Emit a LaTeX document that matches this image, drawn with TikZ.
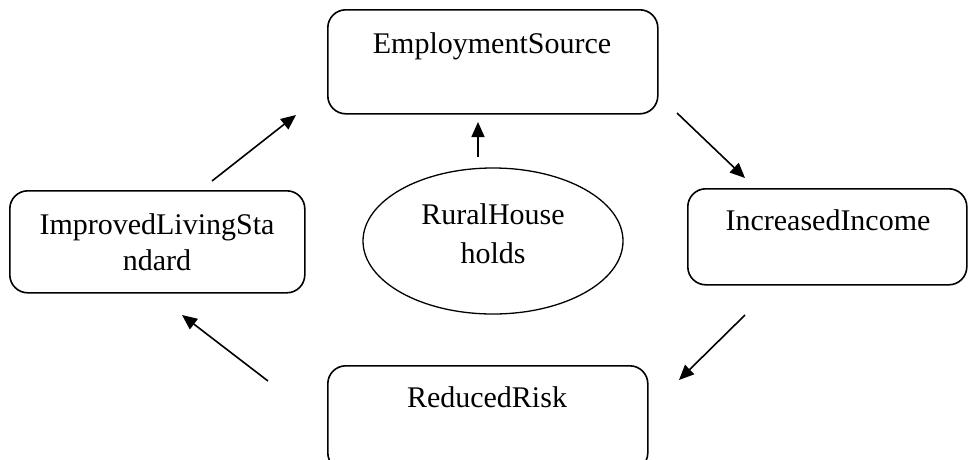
\documentclass[tikz,border=0pt]{standalone}
\usepackage{fontspec}
\setmainfont{Liberation Serif}
\usetikzlibrary{arrows.meta,shapes.geometric}
\begin{document}
\begin{tikzpicture}[x=1pt,y=-1pt,
  box/.style={draw,line width=1.6pt,rounded corners=18pt,rectangle,anchor=north west,inner sep=0pt},
  lbl/.style={anchor=base,inner sep=0pt,font=\fontsize{30}{36}\selectfont},
  arr/.style={line width=1.6pt,-{Triangle[length=15pt,width=13pt]}}]
\useasboundingbox (0,0) rectangle (968,459);
\clip (0,0) rectangle (968,459);
% boxes
\node[box,minimum width=330pt,minimum height=104pt] (emp) at (327,9) {};
\node[box,minimum width=279pt,minimum height=96pt] (inc) at (687,188) {};
\node[box,minimum width=320pt,minimum height=105pt] (red) at (327,365) {};
\node[box,minimum width=295pt,minimum height=102pt] (imp) at (9,190) {};
\node[draw,ellipse,line width=1.3pt,minimum width=260pt,minimum height=146pt,inner sep=0pt] (rur) at (493,241) {};
% texts
\node[lbl] (empT) at (492,53) {EmploymentSource};
\node[lbl] (incT) at (828,230) {IncreasedIncome};
\node[lbl] (redT) at (487,407) {ReducedRisk};
\node[lbl] (impT1) at (157,234) {ImprovedLivingSta};
\node[lbl] (impT2) at (157,270) {ndard};
\node[lbl] (rurT1) at (493,224) {RuralHouse};
\node[lbl] (rurT2) at (493,263) {holds};
% arrow end points
\coordinate (a1s) at (212,181); \coordinate (a1e) at (296,115);
\coordinate (a2s) at (478,157); \coordinate (a2e) at (478,122);
\coordinate (a3s) at (677,113); \coordinate (a3e) at (745,178);
\coordinate (a4s) at (745,315); \coordinate (a4e) at (679,380);
\coordinate (a5s) at (268,381); \coordinate (a5e) at (182,315);
\draw[arr] (a1s) -- (a1e);
\draw[arr] (a2s) -- (a2e);
\draw[arr] (a3s) -- (a3e);
\draw[arr] (a4s) -- (a4e);
\draw[arr] (a5s) -- (a5e);
\end{tikzpicture}
\end{document}
